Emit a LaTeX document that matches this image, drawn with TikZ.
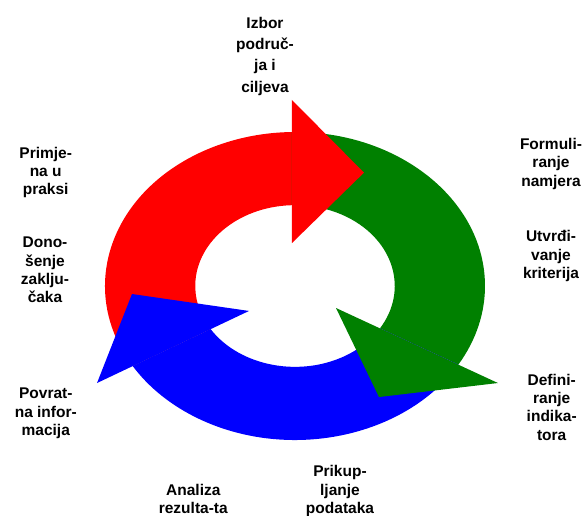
\documentclass[tikz,border=0pt]{standalone}
\usepackage{fontspec}
\setmainfont{Liberation Sans}
\definecolor{arrred}{HTML}{FF0000}
\definecolor{arrgreen}{HTML}{008000}
\definecolor{arrblue}{HTML}{0000FF}
\begin{document}
\begin{tikzpicture}[x=1pt,y=1pt,
  lbl/.style={font=\bfseries\fontsize{15.5}{18.3}\selectfont, align=center, inner sep=0pt, anchor=base, text=black},
  lbltop/.style={lbl, font=\bfseries\fontsize{15.5}{21.3}\selectfont}]
\useasboundingbox (0,0) rectangle (584,-516);
\begin{scope}[shift={(295,-286)}, xscale=190, yscale=154]
  % bodies
  \fill[arrred] (211.3:1) arc[start angle=211.3, end angle=90.92, radius=1]
    -- (91.75:0.525) arc[start angle=91.75, end angle=212.2, radius=0.525] -- cycle;
  \fill[arrgreen] (90.92:1) arc[start angle=90.92, end angle=-30.7, radius=1]
    -- (-31.6:0.525) arc[start angle=-31.6, end angle=91.75, radius=0.525] -- cycle;
  \fill[arrblue] (-30.7:1) arc[start angle=-30.7, end angle=-148.7, radius=1]
    -- (-147.8:0.525) arc[start angle=-147.8, end angle=-31.6, radius=0.525] -- cycle;
  % heads
  \fill[arrred] (-0.016,1.208) -- (0.363,0.736) -- (-0.016,0.279) -- cycle;
  \fill[arrgreen] (0.2158,-0.1429) -- (1.068,-0.630) -- (0.442,-0.721) -- cycle;
  \fill[arrblue] (-1.042,-0.630) -- (-0.858,-0.052) -- (-0.242,-0.162) -- cycle;
\end{scope}
\node[lbltop] (izbor) at (265,-92.3) {Izbor\\područ-\\ja i\\ciljeva};
\node[lbl] (primjena) at (45.7,-195) {Primje-\\na u\\praksi};
\node[lbl] (donosenje) at (45,-302.7) {Dono-\\šenje\\zaklju-\\čaka};
\node[lbl] (formuliranje) at (551,-186) {Formuli-\\ranje\\namjera};
\node[lbl] (utvrdivanje) at (551,-278.3) {Utvrđi-\\vanje\\kriterija};
\node[lbl] (definiranje) at (551.7,-440) {Defini-\\ranje\\indika-\\tora};
\node[lbl] (povratna) at (45.8,-435.3) {Povrat-\\na infor-\\macija};
\node[lbl] (analiza) at (193.3,-513.3) {Analiza\\rezulta-ta};
\node[lbl] (prikupljanje) at (340,-513.3) {Prikup-\\ljanje\\podataka};
\end{tikzpicture}
\end{document}
